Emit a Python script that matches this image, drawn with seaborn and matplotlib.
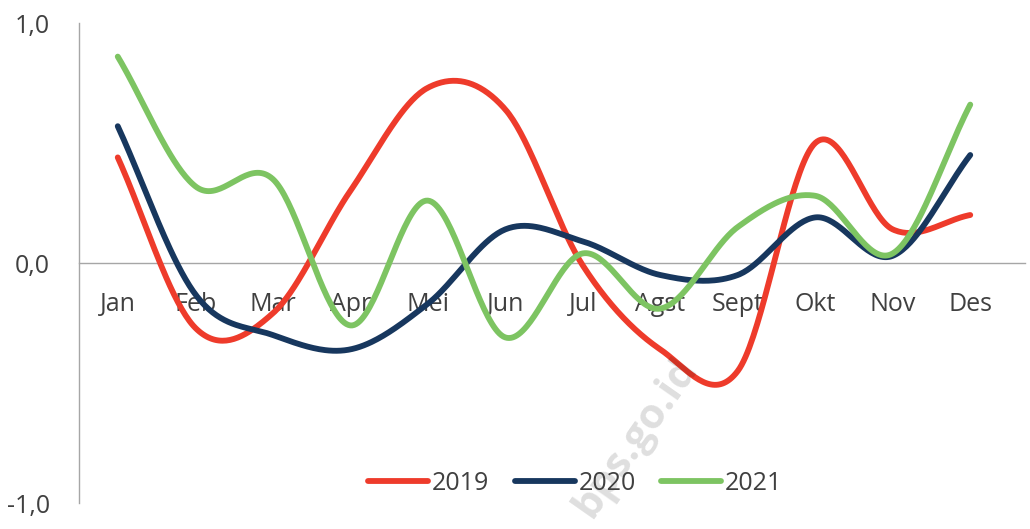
import numpy as np
import pandas as pd
import matplotlib
matplotlib.use("Agg")
import matplotlib.pyplot as plt
import seaborn as sns

# data
months = ["Jan", "Feb", "Mar", "Apr", "Mei", "Jun", "Jul", "Agst", "Sept", "Okt", "Nov", "Des"]
v2019 = [0.44, -0.27, -0.21, 0.30, 0.73, 0.64, -0.01, -0.36, -0.45, 0.50, 0.14, 0.20]
v2020 = [0.57, -0.13, -0.30, -0.36, -0.17, 0.14, 0.09, -0.05, -0.05, 0.19, 0.03, 0.45]
v2021 = [0.86, 0.32, 0.35, -0.26, 0.26, -0.31, 0.04, -0.19, 0.15, 0.28, 0.04, 0.66]
years = ["2019", "2020", "2021"]
colors = ["#EE3B2B", "#17375E", "#7DC462"]


def smooth(vals, n=40):
    # catmull-rom curve through the points, like excel's "smoothed line"
    p = np.asarray(vals, dtype=float)
    ext = np.concatenate([[2 * p[0] - p[1]], p, [2 * p[-1] - p[-2]]])
    xs, ys = [], []
    for i in range(len(p) - 1):
        p0, p1, p2, p3 = ext[i], ext[i + 1], ext[i + 2], ext[i + 3]
        t = np.linspace(0, 1, n, endpoint=False)
        y = 0.5 * ((2 * p1) + (-p0 + p2) * t + (2 * p0 - 5 * p1 + 4 * p2 - p3) * t ** 2
                   + (-p0 + 3 * p1 - 3 * p2 + p3) * t ** 3)
        xs.append(i + t)
        ys.append(y)
    xs.append([len(p) - 1])
    ys.append([p[-1]])
    return np.concatenate(xs), np.concatenate(ys)


sns.set_style("white")
plt.rcParams["font.family"] = ["Open Sans", "DejaVu Sans"]

fig = plt.figure(figsize=(10.3, 5.29), dpi=100)
# plot area: left spine at x=79, zero line runs to x=1025
ax = fig.add_axes([79 / 1030, 1 - 503 / 529, (1025 - 79) / 1030, 480 / 529])

for year, vals, c in zip(years, [v2019, v2020, v2021], colors):
    sx, sy = smooth(vals)
    df = pd.DataFrame({"x": sx, "y": sy})
    sns.lineplot(data=df, x="x", y="y", color=c, linewidth=4.2, sort=False,
                 label=year, ax=ax, solid_capstyle="round", zorder=3)

ax.set_xlim(-0.5, 11.5 + 16 / 77.5)
ax.set_ylim(-1, 1)
ax.set_yticks([-1, 0, 1])
ax.set_yticklabels(["-1,0", "0,0", "1,0"])
ax.set_xticks(range(len(months)))
ax.set_xticklabels(months)
ax.set_xlabel("")
ax.set_ylabel("")

for s in ["top", "right"]:
    ax.spines[s].set_visible(False)
ax.spines["bottom"].set_position(("data", 0))
ax.spines["bottom"].set_color("#A6A6A6")
ax.spines["left"].set_color("#A6A6A6")
ax.spines["bottom"].set_linewidth(1.0)
ax.spines["left"].set_linewidth(1.0)
ax.tick_params(axis="x", length=0, pad=21, labelsize=18, labelcolor="#404040")
ax.tick_params(axis="y", length=0, pad=21, labelsize=18, labelcolor="#404040")

# faint semi-transparent watermark over the plot
fig.text(636 / 1030, 1 - 437 / 529, "bps.go.id", rotation=55, fontsize=30, color="#000000",
         alpha=0.13, ha="center", va="center", fontweight="bold", zorder=5)

ax.get_legend().remove()
handles, labels = ax.get_legend_handles_labels()
fig.legend(handles, labels, loc="center", bbox_to_anchor=(575 / 1030, 1 - 483 / 529),
           ncol=3, frameon=False, fontsize=18, labelcolor="#404040",
           handlelength=2.4, handletextpad=0.15, columnspacing=1.0)

fig.savefig("out.png", dpi=100)
